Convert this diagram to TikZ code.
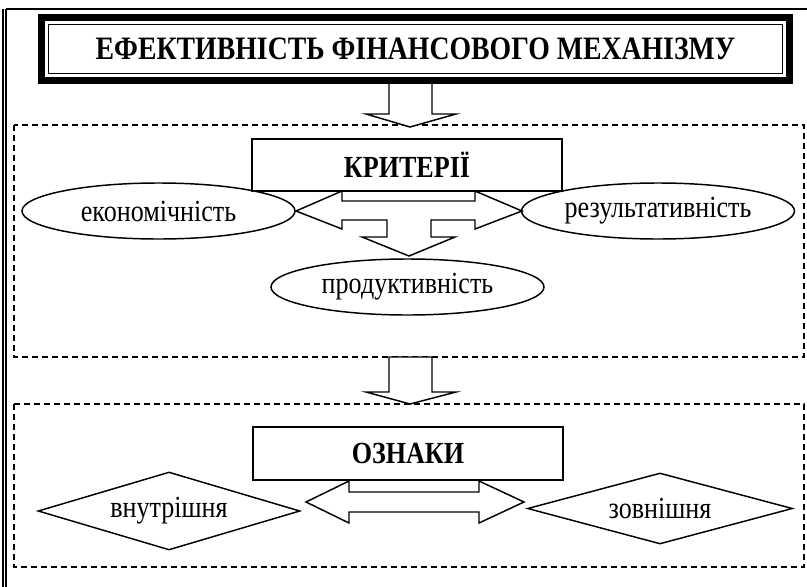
\documentclass[tikz,border=0pt]{standalone}
\usepackage{fontspec}
\setmainfont{Liberation Serif}[FakeStretch=0.85]
\usetikzlibrary{shapes.geometric}
\begin{document}
\begin{tikzpicture}[x=0.75pt, y=-0.75pt, line width=1.1pt,
  oval/.style={ellipse, draw, inner sep=0pt, minimum width=204.75pt, minimum height=42pt, font=\fontsize{23}{27}\selectfont},
  rhomb/.style={diamond, draw, aspect=3.5, inner sep=0pt, font=\fontsize{23}{27}\selectfont},
  headbox/.style={rectangle, draw, inner sep=0pt, minimum width=232.5pt, minimum height=39pt, font=\bfseries\fontsize{23}{27}\selectfont},
  zone/.style={dash pattern=on 4.5pt off 3pt},
  blockarrow/.style={draw, fill=white, line join=miter}]
\useasboundingbox (0,0) rectangle (807,586);
% outer frame
\draw (6,9) -- (808,9);
\draw (6,9) -- (6,587);
\draw (3,9) -- (3,587);
% title
\node[draw, line width=5.25pt, outer sep=0pt, inner sep=0pt, minimum width=561pt, minimum height=47.25pt, font=\bfseries\fontsize{24.5}{28}\selectfont] (title) at (415.5,49){ЕФЕКТИВНІСТЬ ФІНАНСОВОГО МЕХАНІЗМУ};
\draw ([shift={(7,7)}]title.north west) rectangle ([shift={(-7,-7)}]title.south east);
% criteria block
\draw[zone] (14,125) rectangle (804,357);
\draw[blockarrow] (389,84) -- (389,114) -- (366,114) -- (410,127) -- (456,114) -- (432,114) -- (432,84);
\node[headbox] (crit) at (407,165){КРИТЕРІЇ};
\node[oval] (econ) at (158.5,211){економічність};
\node[oval] (result) at (658,211){результативність};
\node[oval] (product) at (407.5,287){продуктивність};
\draw[blockarrow] (296,211) -- (342,191) -- (342,201) -- (475,201) -- (475,191) -- (522,211) -- (475,229) -- (475,220) -- (431,220) -- (431,237) -- (455,237) -- (409,256) -- (362,237) -- (387,237) -- (387,220) -- (342,220) -- (342,229) -- cycle;
% signs block
\draw[blockarrow] (389,357) -- (389,392) -- (366,392) -- (410,404) -- (456,392) -- (432,392) -- (432,357) -- cycle;
\draw[zone] (14,404) rectangle (804,567);
\node[headbox, minimum height=39.75pt] (signs) at (408,453.5){ОЗНАКИ};
\node[rhomb, minimum width=196.5pt, minimum height=58.5pt] (inner) at (169,511){внутрішня};
\node[rhomb, minimum width=198.75pt, minimum height=53.25pt] (outer) at (660,508.5){зовнішня};
\draw[blockarrow] (306,502) -- (349,481) -- (349,492) -- (479,492) -- (479,481) -- (524,502) -- (479,523) -- (479,512) -- (349,512) -- (349,523) -- cycle;
\end{tikzpicture}
\end{document}
